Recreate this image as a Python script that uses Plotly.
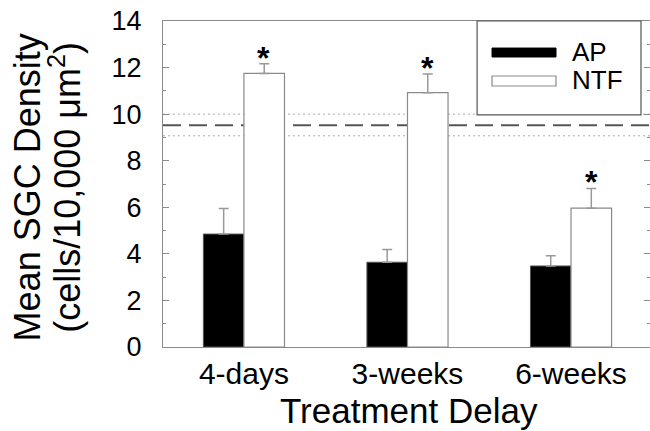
import plotly.graph_objects as go

categories = ["4-days", "3-weeks", "6-weeks"]
ap_values = [4.85, 3.64, 3.48]
ap_errors = [1.10, 0.55, 0.44]
ntf_values = [11.75, 10.92, 5.96]
ntf_errors = [0.41, 0.80, 0.85]
normal_mean = 9.52
normal_upper = 10.0
normal_lower = 9.07
y_ticks = [0, 2, 4, 6, 8, 10, 12, 14]

FONT = "Liberation Sans, Arial, sans-serif"
AXC = "#8a8a8a"

fig = go.Figure()
fig.add_trace(go.Bar(
    name="AP", x=categories, y=ap_values,
    marker=dict(color="black", line=dict(color="#555555", width=1)),
    error_y=dict(type="data", symmetric=False, array=ap_errors,
                 arrayminus=[0] * len(ap_errors), color="#999999",
                 thickness=1.5, width=5),
    showlegend=False,
))
fig.add_trace(go.Bar(
    name="NTF", x=categories, y=ntf_values,
    marker=dict(color="white", line=dict(color="#8a8a8a", width=1.2)),
    error_y=dict(type="data", symmetric=False, array=ntf_errors,
                 arrayminus=[0] * len(ntf_errors), color="#999999",
                 thickness=1.5, width=5),
    showlegend=False,
))

# reference lines (normal density)
fig.add_shape(type="line", xref="paper", yref="y", x0=0, x1=1,
              y0=normal_mean, y1=normal_mean, layer="below",
              line=dict(color="#555555", width=2, dash="18px,8px"))
for yv in (normal_upper, normal_lower):
    fig.add_shape(type="line", xref="paper", yref="y", x0=0, x1=1,
                  y0=yv, y1=yv, layer="below",
                  line=dict(color="#aaaaaa", width=1, dash="2px,3px"))

# significance asterisks
for i, (v, e) in enumerate(zip(ntf_values, ntf_errors)):
    fig.add_annotation(x=categories[i], y=v + e, xref="x", yref="y",
                       text="<b>*</b>", showarrow=False, xshift=20,
                       yanchor="bottom", yshift=-14,
                       font=dict(family=FONT, size=32, color="black"))

# legend (drawn)
fig.add_shape(type="rect", xref="paper", yref="paper", x0=0.645, x1=0.9815,
              y0=0.712, y1=1.0, line=dict(color="#555555", width=1.2),
              fillcolor="white")
fig.add_shape(type="rect", xref="paper", yref="paper", x0=0.6756, x1=0.807,
              y0=0.8896, y1=0.917, line=dict(color="black", width=1),
              fillcolor="black")
fig.add_shape(type="rect", xref="paper", yref="paper", x0=0.6756, x1=0.807,
              y0=0.8006, y1=0.8313, line=dict(color="#8a8a8a", width=1.2),
              fillcolor="white")
fig.add_annotation(x=0.836, y=0.905, xref="paper", yref="paper", text="AP",
                   showarrow=False, xanchor="left", yanchor="middle",
                   font=dict(family=FONT, size=26, color="black"))
fig.add_annotation(x=0.836, y=0.819, xref="paper", yref="paper", text="NTF",
                   showarrow=False, xanchor="left", yanchor="middle",
                   font=dict(family=FONT, size=26, color="black"))

# axis titles
fig.add_annotation(x=-0.279, y=0.49, xref="paper", yref="paper",
                   text="Mean SGC Density", textangle=-90, showarrow=False,
                   xanchor="center", yanchor="middle",
                   font=dict(family=FONT, size=36, color="black"))
fig.add_annotation(x=-0.2, y=0.49, xref="paper", yref="paper",
                   text="(cells/10,000 \u03bcm<sup>2</sup>)", textangle=-90,
                   showarrow=False, xanchor="center", yanchor="middle",
                   font=dict(family=FONT, size=36, color="black"))
fig.add_annotation(x=0.505, y=-0.195, xref="paper", yref="paper",
                   text="Treatment Delay", showarrow=False,
                   xanchor="center", yanchor="middle",
                   font=dict(family=FONT, size=35, color="black"))

fig.update_layout(
    width=650, height=431,
    margin=dict(l=163, r=0, t=21, b=84),
    paper_bgcolor="white", plot_bgcolor="white",
    barmode="group", bargap=0.504, bargroupgap=0,
    font=dict(family=FONT, color="black"),
    xaxis=dict(
        range=[-0.495, 2.483], showline=True, linecolor=AXC, linewidth=1,
        mirror=True, ticks="", showgrid=False, zeroline=False,
        tickfont=dict(size=30, color="black"), ticklabelstandoff=0,
        automargin=False,
    ),
    yaxis=dict(
        range=[0, 14], tickvals=y_ticks, showline=True, linecolor=AXC,
        linewidth=1, ticks="inside", ticklen=6, tickcolor=AXC, tickwidth=1,
        minor=dict(dtick=1, ticks="inside", ticklen=3, tickcolor=AXC),
        showgrid=False, zeroline=False, automargin=False,
        tickfont=dict(size=27, color="black"), ticklabelstandoff=15,
    ),
    yaxis2=dict(
        range=[0, 14], overlaying="y", side="right", tickvals=y_ticks,
        showline=False, ticks="inside", ticklen=6, tickcolor=AXC,
        minor=dict(dtick=1, ticks="inside", ticklen=3, tickcolor=AXC),
        showticklabels=False, showgrid=False, zeroline=False,
        automargin=False,
    ),
)
fig.add_trace(go.Scatter(x=[categories[0]], y=[None], yaxis="y2",
                         showlegend=False, hoverinfo="skip"))

fig.write_html("out.html", config={"displayModeBar": False},
               post_script="document.body.style.margin='0';"
                           "document.body.style.overflow='hidden';")
